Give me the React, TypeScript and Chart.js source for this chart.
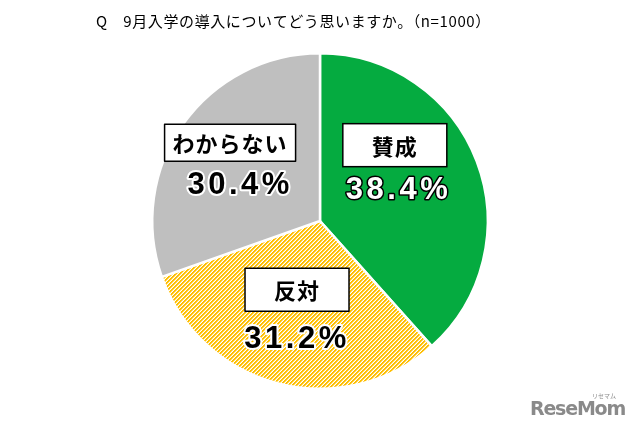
import React, { useEffect, useRef } from "react";
import { Chart, registerables } from "chart.js";

Chart.register(...registerables);

const TITLE = "Q\u30009月入学の導入についてどう思いますか。（n=1000）";
const categories = ["賛成", "反対", "わからない"];
const values = [38.4, 31.2, 30.4];
const percentLabels = ["38.4%", "31.2%", "30.4%"];

// label placement, in units of the pie radius, relative to the pie centre
const boxOffsets = [
  { dx: 0.446, dy: -0.452, w: 104, h: 43 },
  { dx: -0.137, dy: 0.41, w: 104, h: 43 },
  { dx: -0.536, dy: -0.467, w: 131, h: 37 },
];
const pctOffsets = [
  { dx: 0.468, dy: -0.185 },
  { dx: -0.137, dy: 0.708 },
  { dx: -0.476, dy: -0.214 },
];
const pctStyles = [
  { fill: "#ffffff", stroke: "#000000", lw: 3 },
  { fill: "#000000", stroke: "#ffffff", lw: 4 },
  { fill: "#000000", stroke: "#ffffff", lw: 4 },
];

function makeHatch(): CanvasPattern | string {
  const c = document.createElement("canvas");
  c.width = 8;
  c.height = 8;
  const ctx = c.getContext("2d");
  if (!ctx) return "#FFC000";
  const img = ctx.createImageData(8, 8);
  for (let y = 0; y < 8; y++) {
    for (let x = 0; x < 8; x++) {
      const m = (x + y) % 4;
      let r = 255, g = 255, b = 255;
      if (m === 0 || m === 1) { r = 255; g = 190; b = 0; }
      else if (m === 2) { r = 255; g = 225; b = 130; }
      const k = (y * 8 + x) * 4;
      img.data[k] = r; img.data[k + 1] = g; img.data[k + 2] = b; img.data[k + 3] = 255;
    }
  }
  ctx.putImageData(img, 0, 0);
  const p = ctx.createPattern(c, "repeat");
  return p || "#FFC000";
}

const overlayPlugin = {
  id: "overlay",
  afterDatasetsDraw(chart: any) {
    const ctx = chart.ctx as CanvasRenderingContext2D;
    const arcs = chart.getDatasetMeta(0).data;
    if (!arcs.length) return;
    const cx = arcs[0].x;
    const cy = arcs[0].y;
    const r = arcs[0].outerRadius;
    ctx.save();
    // title
    ctx.font = '15px "Noto Sans CJK JP", sans-serif';
    ctx.fillStyle = "#000";
    ctx.textAlign = "left";
    ctx.textBaseline = "middle";
    (ctx as any).letterSpacing = "0.6px";
    ctx.fillText(TITLE, 96, 21);

    categories.forEach((cat, i) => {
      const b = boxOffsets[i];
      const bx = cx + b.dx * r;
      const by = cy + b.dy * r;
      ctx.fillStyle = "#fff";
      ctx.fillRect(bx - b.w / 2, by - b.h / 2, b.w, b.h);
      ctx.strokeStyle = "#000";
      ctx.lineWidth = 1.5;
      ctx.strokeRect(bx - b.w / 2, by - b.h / 2, b.w, b.h);
      ctx.font = 'bold 22px "Noto Sans CJK JP", sans-serif';
      ctx.fillStyle = "#000";
      ctx.textAlign = "center";
      ctx.textBaseline = "middle";
      (ctx as any).letterSpacing = "1px";
      ctx.fillText(cat, bx, by + 1);

      const p = pctOffsets[i];
      const px = cx + p.dx * r;
      const py = cy + p.dy * r;
      const s = pctStyles[i];
      ctx.font = 'bold 31px "Liberation Sans", Arial, sans-serif';
      (ctx as any).letterSpacing = "3.5px";
      ctx.lineJoin = "round";
      ctx.lineWidth = s.lw;
      ctx.strokeStyle = s.stroke;
      ctx.strokeText(percentLabels[i], px, py);
      ctx.fillStyle = s.fill;
      ctx.fillText(percentLabels[i], px, py);
      (ctx as any).letterSpacing = "0px";
    });

    // watermark
    ctx.textAlign = "left";
    ctx.textBaseline = "alphabetic";
    ctx.fillStyle = "#8a8a8a";
    ctx.font = 'bold 19px "DejaVu Sans", sans-serif';
    (ctx as any).letterSpacing = "-1.2px";
    ctx.fillText("ReseMom", 530, 415);
    (ctx as any).letterSpacing = "0px";
    ctx.font = '6px "Noto Sans CJK JP", sans-serif';
    ctx.fillText("リセマム", 592, 398);
    ctx.restore();
  },
};

export default function App() {
  const ref = useRef<HTMLCanvasElement | null>(null);
  useEffect(() => {
    if (!ref.current) return;
    const hatch = makeHatch();
    const chart = new Chart(ref.current, {
      type: "pie",
      data: {
        labels: categories,
        datasets: [
          {
            data: values,
            backgroundColor: ["#05AB40", hatch as any, "#BFBFBF"],
            borderColor: "#ffffff",
            borderWidth: 2.5,
            hoverOffset: 0,
          },
        ],
      },
      options: {
        responsive: false,
        animation: false,
        events: [],
        layout: { padding: { top: 52, bottom: 38, left: 0, right: 0 } },
        plugins: {
          legend: { display: false },
          tooltip: { enabled: false },
          title: { display: false },
        },
      },
      plugins: [overlayPlugin],
    });
    return () => chart.destroy();
  }, []);
  return (
    <div style={{ position: "fixed", left: 0, top: 0, width: 640, height: 428, background: "#fff" }}>
      <canvas ref={ref} width={640} height={428} style={{ width: 640, height: 428, display: "block" }} />
    </div>
  );
}
